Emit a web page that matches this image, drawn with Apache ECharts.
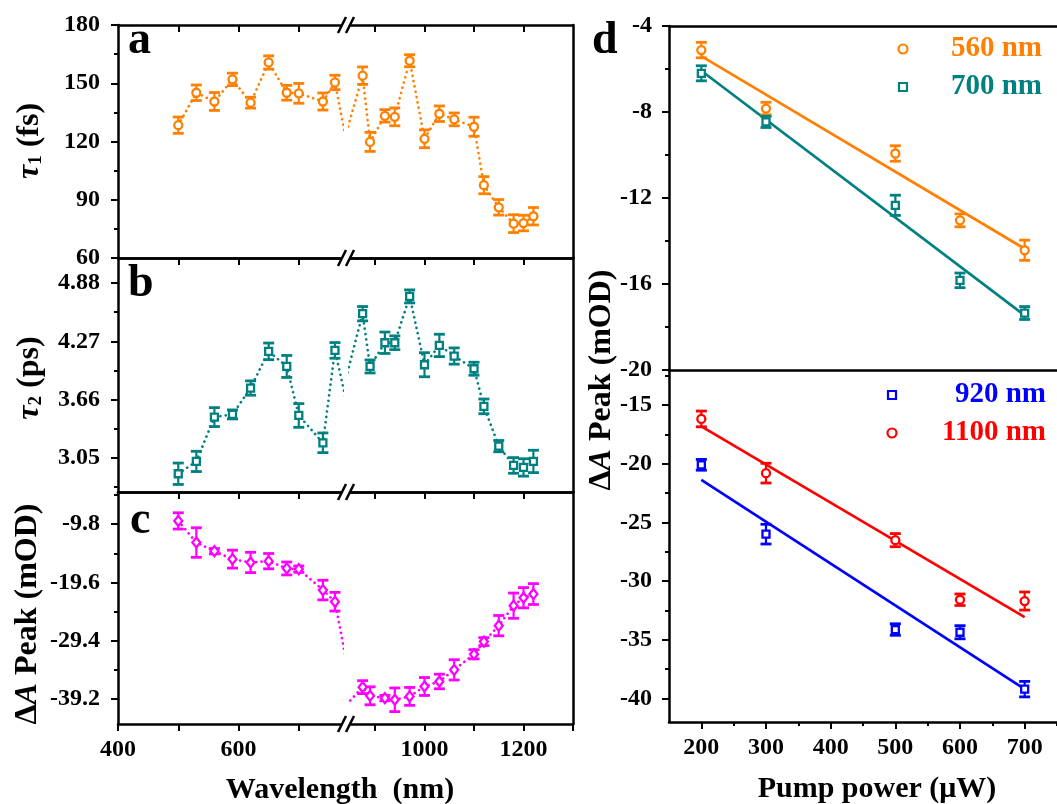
<!DOCTYPE html>
<html><head><meta charset="utf-8">
<script src="https://cdn.jsdelivr.net/npm/echarts@6/dist/echarts.min.js"></script>
<style>html,body{margin:0;padding:0;background:#fff}#c{width:1057px;height:804px}</style>
</head><body><div id="c"></div><script>
// ---------- data ----------
const wavelength = [500,530,560,590,620,650,680,700,740,760, 875,890,920,940,970,1000,1030,1060,1100,1120,1150,1180,1200,1220];
const tau1    = [128.4,145.1,140.6,152.0,140.0,160.7,145.1,144.8,140.6,150.4, 153.9,119.8,133.2,132.7,161.6,121.4,134.3,131.4,127.6,97.5,86.1,77.7,78.0,81.5];
const tau1Err = [4.2,4.0,4.6,3.2,2.8,3.4,3.8,5.1,4.4,3.7, 4.5,4.9,3.2,4.6,3.1,4.6,4.0,3.3,4.9,4.4,4.0,4.6,4.0,4.5];
const tau2    = [2.884,3.013,3.477,3.505,3.781,4.165,4.007,3.494,3.208,4.175, 4.559,4.007,4.255,4.255,4.740,4.025,4.227,4.116,3.983,3.589,3.173,2.971,2.950,3.013];
const tau2Err = [0.112,0.106,0.099,0.047,0.075,0.087,0.115,0.124,0.103,0.082, 0.075,0.068,0.112,0.072,0.068,0.126,0.117,0.085,0.068,0.077,0.059,0.082,0.091,0.117];
const peak    = [-9.24,-12.88,-14.34,-15.68,-16.24,-16.02,-17.25,-17.36,-20.89,-22.85, -37.24,-38.70,-39.09,-39.37,-38.80,-37.13,-36.29,-34.33,-31.70,-29.57,-26.88,-23.52,-22.18,-21.56];
const peakErr = [1.37,2.49,0.45,1.51,1.71,1.29,1.09,0.53,1.65,1.57, 1.09,1.51,0.45,1.99,1.51,1.51,1.23,1.71,0.78,0.67,1.71,2.13,1.71,1.76];
// point hidden inside the axis break (only the dotted line reaches it)
const breakWavelength = 800;
const tau1Break = 87, tau2Break = 3.05, peakBreak = -44;

const pumpPower = [200,300,500,600,700];
const d560 = [-5.12,-7.84,-9.93,-13.04,-14.43];
const d560Err = [0.36,0.29,0.36,0.30,0.47];
const d700 = [-6.20,-8.46,-12.34,-15.83,-17.35];
const d700Err = [0.35,0.26,0.47,0.34,0.30];
const e920 = [-20.08,-25.99,-34.12,-34.35,-39.20];
const e920Err = [0.46,0.84,0.49,0.56,0.66];
const e1100 = [-16.17,-20.79,-26.50,-31.58,-31.69];
const e1100Err = [0.67,0.84,0.56,0.49,0.77];
const fitPower = [200,700];
const fit560 = [-5.40,-14.36];
const fit700 = [-6.08,-17.46];
const fit920 = [-21.36,-39.20];
const fit1100 = [-16.80,-33.06];

// tick values
const tau1Labels = [60,90,120,150,180];
const tau1Minor = [75,105,135,165];
const tau2Labels = [3.05,3.66,4.27,4.88];
const tau2Minor = [2.745,3.355,3.965,4.575];
const peakLabels = [-39.2,-29.4,-19.6,-9.8];
const peakMinor = [-34.3,-24.5,-14.7,-4.9];
const wlLeftTicks = [400,500,600,700];
const wlLeftLabels = [400,600];
const wlRightTicks = [900,1000,1100,1200,1300];
const wlRightLabels = [1000,1200];
const dLabels = [-20,-16,-12,-8,-4];
const dMinor = [-18,-14,-10,-6];
const eLabels = [-40,-35,-30,-25,-20,-15];
const eMinor = [-37.5,-32.5,-27.5,-22.5,-17.5,-12.5];
const powerLabels = [200,300,400,500,600,700];
const powerMinor = [250,350,450,550,650,750];

// ---------- styling / layout ----------
const FONT = '"Liberation Serif","Times New Roman",serif';
const C_OR = '#FF8000', C_TEAL = '#008080', C_MAG = '#FF00FF', C_BLUE = '#0000FF', C_RED = '#FF0000';
const tickFont = {fontFamily: FONT, fontWeight: 'bold', fontSize: 24, color: '#000'};

const option = {backgroundColor:'#fff', animation:false, grid:[], xAxis:[], yAxis:[], series:[], graphic:[]};
function addGrid(g){ option.grid.push(g); return option.grid.length-1; }
function line(){ return {show:true, onZero:false, lineStyle:{color:'#000', width:2.5}}; }
function addAxis(list, a){ list.push(a); return list.length-1; }
function makeAxis(gi, pos, min, max, o){
  return {type:'value', gridIndex:gi, position:pos, min:min, max:max,
    axisLine: o.line ? line() : {show:false},
    axisTick: o.ticks ? {show:true, inside:!!o.inside, length:o.len||7, customValues:o.ticks, lineStyle:{color:'#000', width:2}} : {show:false},
    axisLabel: o.labels ? Object.assign({show:true, customValues:o.labels, margin:o.margin||14, formatter: v => String(v)}, tickFont) : {show:false},
    splitLine:{show:false}, minorTick:{show:false}, splitArea:{show:false}};
}

function errSeries(xi, yi, xs, ys, es, color){
  return {type:'custom', xAxisIndex:xi, yAxisIndex:yi, clip:true, silent:true, z:3,
    data: xs.map((x,i)=>[x, ys[i], es[i]]),
    encode:{x:0, y:1},
    renderItem: function(params, api){
      const x = api.value(0), y = api.value(1), e = api.value(2);
      const hi = api.coord([x, y+e]), lo = api.coord([x, y-e]);
      const h = 5.5;
      return {type:'group', children:[
        {type:'line', shape:{x1:hi[0], y1:hi[1], x2:lo[0], y2:lo[1]}, style:{stroke:color, lineWidth:2.2}},
        {type:'line', shape:{x1:hi[0]-h, y1:hi[1], x2:hi[0]+h, y2:hi[1]}, style:{stroke:color, lineWidth:2.8}},
        {type:'line', shape:{x1:lo[0]-h, y1:lo[1], x2:lo[0]+h, y2:lo[1]}, style:{stroke:color, lineWidth:2.8}}
      ]};
    }};
}
function symSeries(xi, yi, xs, ys, color, symbol, size){
  return {type:'scatter', xAxisIndex:xi, yAxisIndex:yi, clip:true, silent:true, z:4,
    symbol:symbol, symbolSize:size,
    itemStyle:{color:'#fff', borderColor:color, borderWidth:2.3, opacity:1},
    data: xs.map((x,i)=>[x, ys[i]])};
}

// ---------- left panels a, b, c ----------
const cols = [
  {left:118, width:224, min:400, max:771.7, top:[500,600,700], bottom:wlLeftTicks, labels:wlLeftLabels},
  {left:350, width:223, min:849.5, max:1300, top:[900,1000,1100,1200], bottom:wlRightTicks, labels:wlRightLabels}
];
const rows = [
  {top:25, height:233, min:60, max:180, labels:tau1Labels, minor:tau1Minor, vals:tau1, errs:tau1Err, brk:tau1Break, color:C_OR, symbol:'circle', size:8},
  {top:258, height:234, min:2.693, max:5.142, labels:tau2Labels, minor:tau2Minor, vals:tau2, errs:tau2Err, brk:tau2Break, color:C_TEAL, symbol:'rect', size:7},
  {top:492, height:232, min:-43.45, max:-4.37, labels:peakLabels, minor:peakMinor, vals:peak, errs:peakErr, brk:peakBreak, color:C_MAG, symbol:'diamond', size:[8,10]}
];
rows.forEach((r, ri) => {
  const lineData = wavelength.map((w,i)=>[w, r.vals[i]]).concat([[breakWavelength, r.brk]]).sort((p,q)=>p[0]-q[0]);
  cols.forEach((c, ci) => {
    const gi = addGrid({left:c.left, top:r.top, width:c.width, height:r.height});
    const last = ri === 2;
    const xb = addAxis(option.xAxis, makeAxis(gi, 'bottom', c.min, c.max, last ? {line:true, ticks:c.bottom, labels:c.labels, margin:14} : {line:true}));
    addAxis(option.xAxis, makeAxis(gi, 'top', c.min, c.max, {line:true, ticks:c.top, inside:true}));
    let yi;
    if (ci === 0) {
      yi = addAxis(option.yAxis, makeAxis(gi, 'left', r.min, r.max, {line:true, ticks:r.labels, labels:r.labels, margin:18}));
      addAxis(option.yAxis, makeAxis(gi, 'left', r.min, r.max, {ticks:r.minor, len:4}));
    } else {
      yi = addAxis(option.yAxis, makeAxis(gi, 'right', r.min, r.max, {line:true}));
    }
    option.series.push({type:'line', xAxisIndex:xb, yAxisIndex:yi, clip:true, silent:true, z:2,
      showSymbol:false, symbol:'none', data:lineData,
      lineStyle:{color:r.color, width:2.7, type:[0.01, 5.4], cap:'round'}});
    option.series.push(errSeries(xb, yi, wavelength, r.vals, r.errs, r.color));
    option.series.push(symSeries(xb, yi, wavelength, r.vals, r.color, r.symbol, r.size));
  });
});

// ---------- right panels d, e ----------
const gd = addGrid({left:669, top:26, width:398, height:344});
const ge = addGrid({left:669, top:370, width:398, height:352});
const xd = addAxis(option.xAxis, makeAxis(gd, 'bottom', 150, 750, {line:true}));
addAxis(option.xAxis, makeAxis(gd, 'top', 150, 750, {line:true}));
const xe = addAxis(option.xAxis, makeAxis(ge, 'bottom', 150, 750, {line:true, ticks:powerLabels, labels:powerLabels, margin:14}));
addAxis(option.xAxis, makeAxis(ge, 'bottom', 150, 750, {ticks:powerMinor, len:4}));
const yd = addAxis(option.yAxis, makeAxis(gd, 'left', -20, -4, {line:true, ticks:dLabels, labels:dLabels, margin:17}));
addAxis(option.yAxis, makeAxis(gd, 'left', -20, -4, {ticks:dMinor, len:4}));
const ye = addAxis(option.yAxis, makeAxis(ge, 'left', -42, -12, {line:true, ticks:eLabels, labels:eLabels, margin:17}));
addAxis(option.yAxis, makeAxis(ge, 'left', -42, -12, {ticks:eMinor, len:4}));

function fitSeries(xi, yi, ys, color){
  return {type:'line', xAxisIndex:xi, yAxisIndex:yi, silent:true, z:2, showSymbol:false, symbol:'none',
    data: fitPower.map((x,i)=>[x, ys[i]]), lineStyle:{color:color, width:2.7}};
}
option.series.push(fitSeries(xd, yd, fit560, C_OR), fitSeries(xd, yd, fit700, C_TEAL));
option.series.push(errSeries(xd, yd, pumpPower, d560, d560Err, C_OR), errSeries(xd, yd, pumpPower, d700, d700Err, C_TEAL));
option.series.push(symSeries(xd, yd, pumpPower, d560, C_OR, 'circle', 8), symSeries(xd, yd, pumpPower, d700, C_TEAL, 'rect', 7));
option.series.push(fitSeries(xe, ye, fit920, C_BLUE), fitSeries(xe, ye, fit1100, C_RED));
option.series.push(errSeries(xe, ye, pumpPower, e920, e920Err, C_BLUE), errSeries(xe, ye, pumpPower, e1100, e1100Err, C_RED));
option.series.push(symSeries(xe, ye, pumpPower, e920, C_BLUE, 'rect', 7), symSeries(xe, ye, pumpPower, e1100, C_RED, 'circle', 8));

// ---------- decorations: axis-break marks, labels, legends ----------
const G = option.graphic;
[25, 258, 492, 724].forEach(y => {
  G.push({type:'polygon', z:100, shape:{points:[[338,y+8],[346,y-8],[354,y-8],[346,y+8]]}, style:{fill:'#fff'}});
  G.push({type:'line', z:101, shape:{x1:338, y1:y+8, x2:346, y2:y-8}, style:{stroke:'#000', lineWidth:2.5}});
  G.push({type:'line', z:101, shape:{x1:346, y1:y+8, x2:354, y2:y-8}, style:{stroke:'#000', lineWidth:2.5}});
});
function txt(x, y, text, size, o){
  o = o || {};
  return {type:'text', x:x, y:y, z:110, rotation:o.rot||0,
    style:{text:text, fill:o.color||'#000', font:'bold '+size+'px '+FONT,
      fontFamily:FONT, fontWeight:'bold', fontSize:size,
      align:o.align||'center', textAlign:o.align||'center', verticalAlign:'middle', textVerticalAlign:'middle',
      rich:o.rich}};
}
const R = 32;
const richT = {
  g:{fontFamily:FONT, fontWeight:'bold', fontSize:R, fill:'#000', color:'#000'},
  i:{fontFamily:FONT, fontWeight:'bold', fontStyle:'italic', fontSize:R, fill:'#000', color:'#000'},
  s:{fontFamily:FONT, fontWeight:'bold', fontSize:19, fill:'#000', color:'#000', verticalAlign:'bottom', padding:[12,0,0,0]}
};
G.push(txt(30, 141, '{i|τ}{s|1}{g| (fs)}', R, {rot:Math.PI/2, rich:richT}));
G.push(txt(30, 378, '{i|τ}{s|2}{g| (ps)}', R, {rot:Math.PI/2, rich:richT}));
G.push(txt(28, 614, '{g|Δ}{i|A}{g| Peak (mOD)}', R, {rot:Math.PI/2, rich:richT}));
G.push(txt(602, 380, '{g|Δ}{i|A}{g| Peak (mOD)}', R, {rot:Math.PI/2, rich:richT}));
G.push(txt(340, 790, 'Wavelength  (nm)', 30));
G.push(txt(877, 789, 'Pump power (μW)', 30));
G.push(txt(128, 41, 'a', 46, {align:'left'}));
G.push(txt(128, 284, 'b', 46, {align:'left'}));
G.push(txt(130, 521, 'c', 46, {align:'left'}));
G.push(txt(592, 41, 'd', 46, {align:'left'}));
// legends
function legCircle(x, y, color){ return {type:'circle', z:110, shape:{cx:x, cy:y, r:4.5}, style:{fill:'#fff', stroke:color, lineWidth:2.2}}; }
function legRect(x, y, color){ return {type:'rect', z:110, shape:{x:x-4, y:y-4, width:8, height:8}, style:{fill:'#fff', stroke:color, lineWidth:2.2}}; }
G.push(legCircle(903, 49, C_OR), txt(1042, 49, '560 nm', 29, {align:'right', color:C_OR}));
G.push(legRect(903, 87, C_TEAL), txt(1042, 87, '700 nm', 29, {align:'right', color:C_TEAL}));
G.push(legRect(892, 395, C_BLUE), txt(1046, 395, '920 nm', 29, {align:'right', color:C_BLUE}));
G.push(legCircle(892, 433, C_RED), txt(1046, 433, '1100 nm', 29, {align:'right', color:C_RED}));

const chart = echarts.init(document.getElementById('c'), null, {renderer:'canvas'});
chart.setOption(option);
</script></body></html>
